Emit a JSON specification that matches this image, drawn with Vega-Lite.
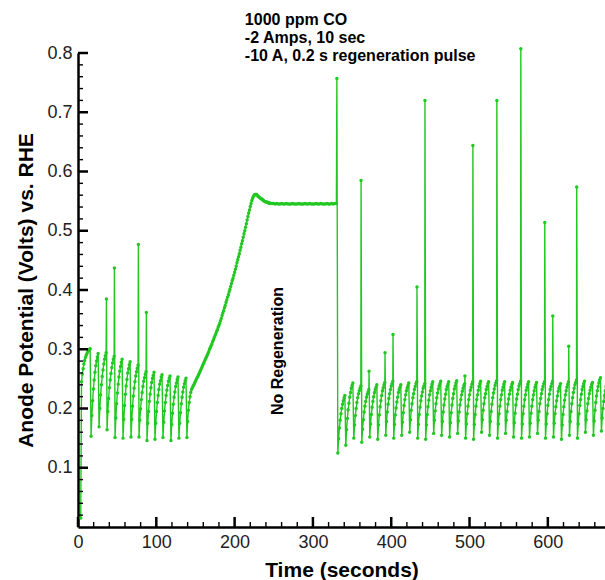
{
"$schema":"https://vega.github.io/schema/vega-lite/v6.json",
"autosize":"none",
"padding":{"left":78,"top":53,"right":0,"bottom":53},
"width":527,
"height":474,
"config":{"view":{"stroke":null},"axis":{"grid":false,"domainColor":"#000","domainWidth":2.5,"tickColor":"#000","labelFont":"Liberation Sans","labelFontSize":18,"labelColor":"#222","titleFont":"Liberation Sans","titleFontSize":21,"titleFontWeight":"bold","titleColor":"#000","labelFlush":false}},
"resolve":{"axis":{"x":"independent","y":"independent"}},
"layer":[
{"data":{"values":[
{"t":3.5,"v":0.015},{"t":4.5,"v":0.245},{"t":5.5,"v":0.258},{"t":6.5,"v":0.267},{"t":7.5,"v":0.275},{"t":8.5,"v":0.281},{"t":9.5,"v":0.286},{"t":10.5,"v":0.29},{"t":11.5,"v":0.293},{"t":12.5,"v":0.296},{"t":13.5,"v":0.298},{"t":14.5,"v":0.3},{"t":15.5,"v":0.301},
{"t":16.7,"v":0.153},{"t":17.7,"v":0.188},{"t":18.7,"v":0.213},{"t":19.7,"v":0.233},{"t":20.7,"v":0.248},{"t":21.7,"v":0.261},{"t":22.7,"v":0.272},{"t":23.7,"v":0.28},{"t":24.7,"v":0.287},{"t":25.7,"v":0.293},
{"t":26.9,"v":0.169},{"t":27.9,"v":0.2},{"t":28.9,"v":0.223},{"t":29.9,"v":0.24},{"t":30.9,"v":0.254},{"t":31.9,"v":0.265},{"t":32.9,"v":0.275},{"t":33.9,"v":0.283},{"t":34.9,"v":0.289},{"t":35.9,"v":0.294},{"t":36.3,"v":0.385},
{"t":37.1,"v":0.164},{"t":38.1,"v":0.195},{"t":39.1,"v":0.217},{"t":40.1,"v":0.235},{"t":41.1,"v":0.248},{"t":42.1,"v":0.259},{"t":43.1,"v":0.269},{"t":44.1,"v":0.277},{"t":45.1,"v":0.283},{"t":46.1,"v":0.288},{"t":46.5,"v":0.437},
{"t":47.3,"v":0.151},{"t":48.3,"v":0.184},{"t":49.3,"v":0.208},{"t":50.3,"v":0.226},{"t":51.3,"v":0.241},{"t":52.3,"v":0.253},{"t":53.3,"v":0.263},{"t":54.3,"v":0.271},{"t":55.3,"v":0.278},{"t":56.3,"v":0.283},
{"t":57.5,"v":0.15},{"t":58.5,"v":0.182},{"t":59.5,"v":0.205},{"t":60.5,"v":0.224},{"t":61.5,"v":0.238},{"t":62.5,"v":0.249},{"t":63.5,"v":0.26},{"t":64.5,"v":0.267},{"t":65.5,"v":0.274},{"t":66.5,"v":0.279},
{"t":67.7,"v":0.152},{"t":68.7,"v":0.182},{"t":69.7,"v":0.204},{"t":70.7,"v":0.221},{"t":71.7,"v":0.234},{"t":72.7,"v":0.245},{"t":73.7,"v":0.255},{"t":74.7,"v":0.262},{"t":75.7,"v":0.268},{"t":76.7,"v":0.273},{"t":77.1,"v":0.477},
{"t":77.9,"v":0.152},{"t":78.9,"v":0.18},{"t":79.9,"v":0.199},{"t":80.9,"v":0.215},{"t":81.9,"v":0.227},{"t":82.9,"v":0.237},{"t":83.9,"v":0.246},{"t":84.9,"v":0.252},{"t":85.9,"v":0.258},{"t":86.9,"v":0.262},{"t":87.3,"v":0.362},
{"t":88.1,"v":0.146},{"t":89.1,"v":0.175},{"t":90.1,"v":0.195},{"t":91.1,"v":0.212},{"t":92.1,"v":0.224},{"t":93.1,"v":0.235},{"t":94.1,"v":0.244},{"t":95.1,"v":0.251},{"t":96.1,"v":0.256},{"t":97.1,"v":0.261},
{"t":98.3,"v":0.148},{"t":99.3,"v":0.175},{"t":100.3,"v":0.195},{"t":101.3,"v":0.21},{"t":102.3,"v":0.222},{"t":103.3,"v":0.232},{"t":104.3,"v":0.241},{"t":105.3,"v":0.247},{"t":106.3,"v":0.253},{"t":107.3,"v":0.257},
{"t":108.5,"v":0.151},{"t":109.5,"v":0.177},{"t":110.5,"v":0.196},{"t":111.5,"v":0.21},{"t":112.5,"v":0.222},{"t":113.5,"v":0.231},{"t":114.5,"v":0.239},{"t":115.5,"v":0.246},{"t":116.5,"v":0.251},{"t":117.5,"v":0.255},
{"t":118.7,"v":0.146},{"t":119.7,"v":0.173},{"t":120.7,"v":0.192},{"t":121.7,"v":0.207},{"t":122.7,"v":0.219},{"t":123.7,"v":0.228},{"t":124.7,"v":0.237},{"t":125.7,"v":0.243},{"t":126.7,"v":0.249},{"t":127.7,"v":0.253},
{"t":128.9,"v":0.15},{"t":129.9,"v":0.175},{"t":130.9,"v":0.193},{"t":131.9,"v":0.208},{"t":132.9,"v":0.219},{"t":133.9,"v":0.228},{"t":134.9,"v":0.236},{"t":135.9,"v":0.242},{"t":136.9,"v":0.247},{"t":137.9,"v":0.251},
{"t":139.1,"v":0.151},{"t":140,"v":0.178},{"t":141,"v":0.197},{"t":142,"v":0.21},{"t":143,"v":0.22},{"t":144,"v":0.227},
{"t":145,"v":0.232},{"t":146,"v":0.235},{"t":147,"v":0.238},{"t":148,"v":0.24},{"t":149,"v":0.243},{"t":150,"v":0.246},{"t":151,"v":0.249},{"t":152,"v":0.252},{"t":153,"v":0.254},{"t":154,"v":0.257},
{"t":155,"v":0.26},{"t":156,"v":0.263},{"t":157,"v":0.266},{"t":158,"v":0.269},{"t":159,"v":0.272},{"t":160,"v":0.275},{"t":161,"v":0.278},{"t":162,"v":0.281},{"t":163,"v":0.284},{"t":164,"v":0.287},
{"t":165,"v":0.29},{"t":166,"v":0.293},{"t":167,"v":0.296},{"t":168,"v":0.3},{"t":169,"v":0.303},{"t":170,"v":0.306},{"t":171,"v":0.309},{"t":172,"v":0.313},{"t":173,"v":0.316},{"t":174,"v":0.32},
{"t":175,"v":0.323},{"t":176,"v":0.326},{"t":177,"v":0.33},{"t":178,"v":0.333},{"t":179,"v":0.337},{"t":180,"v":0.34},{"t":181,"v":0.344},{"t":182,"v":0.348},{"t":183,"v":0.352},{"t":184,"v":0.357},
{"t":185,"v":0.361},{"t":186,"v":0.365},{"t":187,"v":0.37},{"t":188,"v":0.374},{"t":189,"v":0.379},{"t":190,"v":0.383},{"t":191,"v":0.388},{"t":192,"v":0.392},{"t":193,"v":0.397},{"t":194,"v":0.401},
{"t":195,"v":0.406},{"t":196,"v":0.411},{"t":197,"v":0.416},{"t":198,"v":0.42},{"t":199,"v":0.425},{"t":200,"v":0.43},{"t":201,"v":0.435},{"t":202,"v":0.44},{"t":203,"v":0.446},{"t":204,"v":0.451},
{"t":205,"v":0.456},{"t":206,"v":0.461},{"t":207,"v":0.467},{"t":208,"v":0.472},{"t":209,"v":0.478},{"t":210,"v":0.483},{"t":211,"v":0.489},{"t":212,"v":0.495},{"t":213,"v":0.5},{"t":214,"v":0.506},
{"t":215,"v":0.512},{"t":216,"v":0.518},{"t":217,"v":0.524},{"t":218,"v":0.53},{"t":219,"v":0.535},{"t":220,"v":0.541},{"t":221,"v":0.546},{"t":222,"v":0.551},{"t":223,"v":0.555},{"t":224,"v":0.558},
{"t":225,"v":0.56},{"t":226,"v":0.561},{"t":227,"v":0.561},{"t":228,"v":0.561},{"t":229,"v":0.56},{"t":230,"v":0.558},{"t":231,"v":0.557},{"t":232,"v":0.556},{"t":233,"v":0.555},{"t":234,"v":0.554},
{"t":235,"v":0.553},{"t":236,"v":0.552},{"t":237,"v":0.551},{"t":238,"v":0.55},{"t":239,"v":0.549},{"t":240,"v":0.549},{"t":241,"v":0.548},{"t":242,"v":0.548},{"t":243,"v":0.547},{"t":244,"v":0.547},
{"t":245,"v":0.547},{"t":246,"v":0.546},{"t":248,"v":0.546},{"t":250,"v":0.546},{"t":252,"v":0.545},{"t":254,"v":0.546},{"t":256,"v":0.545},{"t":258,"v":0.545},{"t":260,"v":0.546},{"t":262,"v":0.545},
{"t":264,"v":0.545},{"t":266,"v":0.546},{"t":268,"v":0.545},{"t":270,"v":0.545},{"t":272,"v":0.545},{"t":274,"v":0.546},{"t":276,"v":0.545},{"t":278,"v":0.545},{"t":280,"v":0.545},{"t":282,"v":0.546},
{"t":284,"v":0.545},{"t":286,"v":0.545},{"t":288,"v":0.545},{"t":290,"v":0.546},{"t":292,"v":0.545},{"t":294,"v":0.545},{"t":296,"v":0.546},{"t":298,"v":0.545},{"t":300,"v":0.545},{"t":302,"v":0.545},
{"t":304,"v":0.546},{"t":306,"v":0.545},{"t":308,"v":0.545},{"t":310,"v":0.546},{"t":312,"v":0.545},{"t":314,"v":0.545},{"t":316,"v":0.545},{"t":318,"v":0.546},{"t":320,"v":0.545},{"t":322,"v":0.545},
{"t":324,"v":0.546},{"t":326,"v":0.545},{"t":328,"v":0.546},{"t":330,"v":0.546},{"t":330.6,"v":0.757},
{"t":331.8,"v":0.125},{"t":332.8,"v":0.149},{"t":333.8,"v":0.167},{"t":334.8,"v":0.18},{"t":335.8,"v":0.191},{"t":336.8,"v":0.2},{"t":337.8,"v":0.207},{"t":338.8,"v":0.213},{"t":339.8,"v":0.218},{"t":340.8,"v":0.222},
{"t":342,"v":0.138},{"t":343,"v":0.164},{"t":344,"v":0.183},{"t":345,"v":0.198},{"t":346,"v":0.209},{"t":347,"v":0.219},{"t":348,"v":0.227},{"t":349,"v":0.234},{"t":350,"v":0.239},{"t":351,"v":0.243},
{"t":352.2,"v":0.15},{"t":353.2,"v":0.172},{"t":354.2,"v":0.188},{"t":355.2,"v":0.2},{"t":356.2,"v":0.21},{"t":357.2,"v":0.218},{"t":358.2,"v":0.225},{"t":359.2,"v":0.23},{"t":360.2,"v":0.234},{"t":361.2,"v":0.238},{"t":361.5,"v":0.585},
{"t":362.4,"v":0.143},{"t":363.4,"v":0.165},{"t":364.4,"v":0.181},{"t":365.4,"v":0.194},{"t":366.4,"v":0.204},{"t":367.4,"v":0.212},{"t":368.4,"v":0.219},{"t":369.4,"v":0.224},{"t":370.4,"v":0.228},{"t":371.4,"v":0.232},{"t":371.7,"v":0.263},
{"t":372.6,"v":0.152},{"t":373.6,"v":0.174},{"t":374.6,"v":0.19},{"t":375.6,"v":0.202},{"t":376.6,"v":0.212},{"t":377.6,"v":0.22},{"t":378.6,"v":0.227},{"t":379.6,"v":0.232},{"t":380.6,"v":0.236},{"t":381.6,"v":0.24},
{"t":382.8,"v":0.148},{"t":383.8,"v":0.172},{"t":384.8,"v":0.189},{"t":385.8,"v":0.203},{"t":386.8,"v":0.213},{"t":387.8,"v":0.222},{"t":388.8,"v":0.23},{"t":389.8,"v":0.235},{"t":390.8,"v":0.24},{"t":391.8,"v":0.244},{"t":392.1,"v":0.294},
{"t":393,"v":0.155},{"t":394,"v":0.178},{"t":395,"v":0.194},{"t":396,"v":0.207},{"t":397,"v":0.217},{"t":398,"v":0.225},{"t":399,"v":0.232},{"t":400,"v":0.238},{"t":401,"v":0.242},{"t":402,"v":0.246},{"t":402.3,"v":0.325},
{"t":403.2,"v":0.15},{"t":404.2,"v":0.173},{"t":405.2,"v":0.189},{"t":406.2,"v":0.201},{"t":407.2,"v":0.211},{"t":408.2,"v":0.219},{"t":409.2,"v":0.227},{"t":410.2,"v":0.232},{"t":411.2,"v":0.236},{"t":412.2,"v":0.24},
{"t":413.4,"v":0.155},{"t":414.4,"v":0.177},{"t":415.4,"v":0.193},{"t":416.4,"v":0.205},{"t":417.4,"v":0.215},{"t":418.4,"v":0.223},{"t":419.4,"v":0.23},{"t":420.4,"v":0.235},{"t":421.4,"v":0.239},{"t":422.4,"v":0.243},
{"t":423.6,"v":0.16},{"t":424.6,"v":0.181},{"t":425.6,"v":0.197},{"t":426.6,"v":0.208},{"t":427.6,"v":0.218},{"t":428.6,"v":0.225},{"t":429.6,"v":0.232},{"t":430.6,"v":0.237},{"t":431.6,"v":0.242},{"t":432.6,"v":0.245},{"t":432.9,"v":0.405},
{"t":433.8,"v":0.15},{"t":434.8,"v":0.173},{"t":435.8,"v":0.19},{"t":436.8,"v":0.202},{"t":437.8,"v":0.213},{"t":438.8,"v":0.221},{"t":439.8,"v":0.228},{"t":440.8,"v":0.234},{"t":441.8,"v":0.238},{"t":442.8,"v":0.242},{"t":443.1,"v":0.72},
{"t":444,"v":0.148},{"t":445,"v":0.172},{"t":446,"v":0.19},{"t":447,"v":0.203},{"t":448,"v":0.214},{"t":449,"v":0.223},{"t":450,"v":0.23},{"t":451,"v":0.236},{"t":452,"v":0.241},{"t":453,"v":0.245},
{"t":454.2,"v":0.158},{"t":455.2,"v":0.18},{"t":456.2,"v":0.196},{"t":457.2,"v":0.208},{"t":458.2,"v":0.218},{"t":459.2,"v":0.226},{"t":460.2,"v":0.233},{"t":461.2,"v":0.238},{"t":462.2,"v":0.242},{"t":463.2,"v":0.246},
{"t":464.4,"v":0.155},{"t":465.4,"v":0.178},{"t":466.4,"v":0.194},{"t":467.4,"v":0.206},{"t":468.4,"v":0.216},{"t":469.4,"v":0.224},{"t":470.4,"v":0.232},{"t":471.4,"v":0.237},{"t":472.4,"v":0.241},{"t":473.4,"v":0.245},
{"t":474.6,"v":0.152},{"t":475.6,"v":0.176},{"t":476.6,"v":0.193},{"t":477.6,"v":0.206},{"t":478.6,"v":0.217},{"t":479.6,"v":0.225},{"t":480.6,"v":0.233},{"t":481.6,"v":0.238},{"t":482.6,"v":0.243},{"t":483.6,"v":0.247},
{"t":484.8,"v":0.158},{"t":485.8,"v":0.179},{"t":486.8,"v":0.194},{"t":487.8,"v":0.206},{"t":488.8,"v":0.215},{"t":489.8,"v":0.223},{"t":490.8,"v":0.229},{"t":491.8,"v":0.234},{"t":492.8,"v":0.239},{"t":493.8,"v":0.242},{"t":494.1,"v":0.255},
{"t":495,"v":0.15},{"t":496,"v":0.174},{"t":497,"v":0.191},{"t":498,"v":0.204},{"t":499,"v":0.215},{"t":500,"v":0.223},{"t":501,"v":0.231},{"t":502,"v":0.236},{"t":503,"v":0.241},{"t":504,"v":0.245},{"t":504.3,"v":0.644},
{"t":505.2,"v":0.148},{"t":506.2,"v":0.173},{"t":507.2,"v":0.19},{"t":508.2,"v":0.204},{"t":509.2,"v":0.215},{"t":510.2,"v":0.223},{"t":511.2,"v":0.231},{"t":512.2,"v":0.237},{"t":513.2,"v":0.242},{"t":514.2,"v":0.246},
{"t":515.4,"v":0.16},{"t":516.4,"v":0.181},{"t":517.4,"v":0.197},{"t":518.4,"v":0.208},{"t":519.4,"v":0.218},{"t":520.4,"v":0.225},{"t":521.4,"v":0.232},{"t":522.4,"v":0.237},{"t":523.4,"v":0.242},{"t":524.4,"v":0.245},
{"t":525.6,"v":0.155},{"t":526.6,"v":0.178},{"t":527.6,"v":0.195},{"t":528.6,"v":0.207},{"t":529.6,"v":0.218},{"t":530.6,"v":0.226},{"t":531.6,"v":0.233},{"t":532.6,"v":0.239},{"t":533.6,"v":0.243},{"t":534.6,"v":0.247},{"t":534.9,"v":0.72},
{"t":535.8,"v":0.15},{"t":536.8,"v":0.174},{"t":537.8,"v":0.191},{"t":538.8,"v":0.204},{"t":539.8,"v":0.215},{"t":540.8,"v":0.223},{"t":541.8,"v":0.231},{"t":542.8,"v":0.236},{"t":543.8,"v":0.241},{"t":544.8,"v":0.245},
{"t":546,"v":0.158},{"t":547,"v":0.18},{"t":548,"v":0.195},{"t":549,"v":0.207},{"t":550,"v":0.216},{"t":551,"v":0.224},{"t":552,"v":0.231},{"t":553,"v":0.236},{"t":554,"v":0.241},{"t":555,"v":0.244},
{"t":556.2,"v":0.152},{"t":557.2,"v":0.176},{"t":558.2,"v":0.192},{"t":559.2,"v":0.206},{"t":560.2,"v":0.216},{"t":561.2,"v":0.224},{"t":562.2,"v":0.232},{"t":563.2,"v":0.238},{"t":564.2,"v":0.242},{"t":565.2,"v":0.246},{"t":565.5,"v":0.807},
{"t":566.4,"v":0.15},{"t":567.4,"v":0.174},{"t":568.4,"v":0.191},{"t":569.4,"v":0.204},{"t":570.4,"v":0.215},{"t":571.4,"v":0.223},{"t":572.4,"v":0.231},{"t":573.4,"v":0.236},{"t":574.4,"v":0.241},{"t":575.4,"v":0.245},
{"t":576.6,"v":0.152},{"t":577.6,"v":0.175},{"t":578.6,"v":0.192},{"t":579.6,"v":0.204},{"t":580.6,"v":0.215},{"t":581.6,"v":0.223},{"t":582.6,"v":0.23},{"t":583.6,"v":0.236},{"t":584.6,"v":0.24},{"t":585.6,"v":0.244},
{"t":586.8,"v":0.158},{"t":587.8,"v":0.18},{"t":588.8,"v":0.195},{"t":589.8,"v":0.208},{"t":590.8,"v":0.217},{"t":591.8,"v":0.225},{"t":592.8,"v":0.232},{"t":593.8,"v":0.237},{"t":594.8,"v":0.242},{"t":595.8,"v":0.245},{"t":596.1,"v":0.514},
{"t":597,"v":0.15},{"t":598,"v":0.174},{"t":599,"v":0.191},{"t":600,"v":0.205},{"t":601,"v":0.215},{"t":602,"v":0.224},{"t":603,"v":0.232},{"t":604,"v":0.237},{"t":605,"v":0.242},{"t":606,"v":0.246},{"t":606.3,"v":0.356},
{"t":607.2,"v":0.152},{"t":608.2,"v":0.175},{"t":609.2,"v":0.191},{"t":610.2,"v":0.203},{"t":611.2,"v":0.213},{"t":612.2,"v":0.221},{"t":613.2,"v":0.229},{"t":614.2,"v":0.234},{"t":615.2,"v":0.238},{"t":616.2,"v":0.242},
{"t":617.4,"v":0.148},{"t":618.4,"v":0.172},{"t":619.4,"v":0.19},{"t":620.4,"v":0.203},{"t":621.4,"v":0.214},{"t":622.4,"v":0.223},{"t":623.4,"v":0.23},{"t":624.4,"v":0.236},{"t":625.4,"v":0.241},{"t":626.4,"v":0.245},{"t":626.7,"v":0.305},
{"t":627.6,"v":0.155},{"t":628.6,"v":0.178},{"t":629.6,"v":0.195},{"t":630.6,"v":0.208},{"t":631.6,"v":0.218},{"t":632.6,"v":0.227},{"t":633.6,"v":0.234},{"t":634.6,"v":0.24},{"t":635.6,"v":0.244},{"t":636.6,"v":0.248},{"t":636.9,"v":0.574},
{"t":637.8,"v":0.15},{"t":638.8,"v":0.174},{"t":639.8,"v":0.191},{"t":640.8,"v":0.205},{"t":641.8,"v":0.215},{"t":642.8,"v":0.224},{"t":643.8,"v":0.232},{"t":644.8,"v":0.237},{"t":645.8,"v":0.242},{"t":646.8,"v":0.246},
{"t":648,"v":0.16},{"t":649,"v":0.181},{"t":650,"v":0.196},{"t":651,"v":0.208},{"t":652,"v":0.217},{"t":653,"v":0.225},{"t":654,"v":0.231},{"t":655,"v":0.236},{"t":656,"v":0.241},{"t":657,"v":0.244},
{"t":658.2,"v":0.155},{"t":659.2,"v":0.179},{"t":660.2,"v":0.197},{"t":661.2,"v":0.21},{"t":662.2,"v":0.221},{"t":663.2,"v":0.23},{"t":664.2,"v":0.237},{"t":665.2,"v":0.243},{"t":666.2,"v":0.248},{"t":667.2,"v":0.252},
{"t":668.4,"v":0.162},{"t":669.4,"v":0.184},{"t":670.4,"v":0.2},{"t":671.4,"v":0.212},{"t":672.4,"v":0.222},{"t":673.4,"v":0.23},{"t":674.4,"v":0.237},{"t":675.4,"v":0.242}
]},
"mark":{"type":"line","color":"#22c722","strokeWidth":1.4,"point":{"filled":true,"size":12,"color":"#22c722"}},
"encoding":{
"x":{"field":"t","type":"quantitative","title":"Time (seconds)","scale":{"domain":[0,673],"nice":false,"zero":false},
"axis":{"orient":"bottom","values":[0,100,200,300,400,500,600],"format":"d","labelOverlap":false,"ticks":false,"labelPadding":6,"titlePadding":8}},
"y":{"field":"v","type":"quantitative","title":"Anode Potential (Volts) vs. RHE","scale":{"domain":[0,0.8],"nice":false,"zero":false},
"axis":{"orient":"left","values":[0.1,0.2,0.3,0.4,0.5,0.6,0.7,0.8],"format":".1f","labelOverlap":false,"ticks":false,"labelPadding":6,"titlePadding":10}}
}},
{"data":{"values":[{"t":213.1,"v":0.8465,"label":"1000 ppm CO\n-2 Amps, 10 sec\n-10 A, 0.2 s regeneration pulse"}]},
"mark":{"type":"text","align":"left","baseline":"alphabetic","lineBreak":"\n","lineHeight":17.7,"font":"Liberation Sans","fontSize":16,"fontWeight":"bold","color":"#000"},
"encoding":{"x":{"field":"t","type":"quantitative","axis":null},"y":{"field":"v","type":"quantitative","axis":null},"text":{"field":"label"}}},
{"data":{"values":[{"t":261.8,"v":0.297,"label":"No Regeneration"}]},
"mark":{"type":"text","align":"center","baseline":"alphabetic","angle":270,"font":"Liberation Sans","fontSize":16,"fontWeight":"bold","color":"#000"},
"encoding":{"x":{"field":"t","type":"quantitative","axis":null},"y":{"field":"v","type":"quantitative","axis":null},"text":{"field":"label"}}},
{"data":{"values":[{"t":0},{"t":100},{"t":200},{"t":300},{"t":400},{"t":500},{"t":600}]},
"mark":{"type":"tick","orient":"vertical","size":10,"thickness":2.5,"color":"#000","opacity":1,"yOffset":-5},
"encoding":{"x":{"field":"t","type":"quantitative","axis":null},"y":{"datum":0,"type":"quantitative","axis":null}}},
{"data":{"values":[{"t":20},{"t":40},{"t":60},{"t":80},{"t":120},{"t":140},{"t":160},{"t":180},{"t":220},{"t":240},{"t":260},{"t":280},{"t":320},{"t":340},{"t":360},{"t":380},{"t":420},{"t":440},{"t":460},{"t":480},{"t":520},{"t":540},{"t":560},{"t":580},{"t":620},{"t":640},{"t":660}]},
"mark":{"type":"tick","orient":"vertical","size":5,"thickness":1.4,"color":"#000","opacity":1,"yOffset":-2.5},
"encoding":{"x":{"field":"t","type":"quantitative","axis":null},"y":{"datum":0,"type":"quantitative","axis":null}}},
{"data":{"values":[{"v":0.1},{"v":0.2},{"v":0.3},{"v":0.4},{"v":0.5},{"v":0.6},{"v":0.7},{"v":0.8}]},
"mark":{"type":"tick","orient":"horizontal","size":10,"thickness":2.5,"color":"#000","opacity":1,"xOffset":5},
"encoding":{"y":{"field":"v","type":"quantitative","axis":null},"x":{"datum":0,"type":"quantitative","axis":null}}},
{"data":{"values":[{"v":0.02},{"v":0.04},{"v":0.06},{"v":0.08},{"v":0.12},{"v":0.14},{"v":0.16},{"v":0.18},{"v":0.22},{"v":0.24},{"v":0.26},{"v":0.28},{"v":0.32},{"v":0.34},{"v":0.36},{"v":0.38},{"v":0.42},{"v":0.44},{"v":0.46},{"v":0.48},{"v":0.52},{"v":0.54},{"v":0.56},{"v":0.58},{"v":0.62},{"v":0.64},{"v":0.66},{"v":0.68},{"v":0.72},{"v":0.74},{"v":0.76},{"v":0.78}]},
"mark":{"type":"tick","orient":"horizontal","size":5,"thickness":1.4,"color":"#000","opacity":1,"xOffset":2.5},
"encoding":{"y":{"field":"v","type":"quantitative","axis":null},"x":{"datum":0,"type":"quantitative","axis":null}}}
]
}
